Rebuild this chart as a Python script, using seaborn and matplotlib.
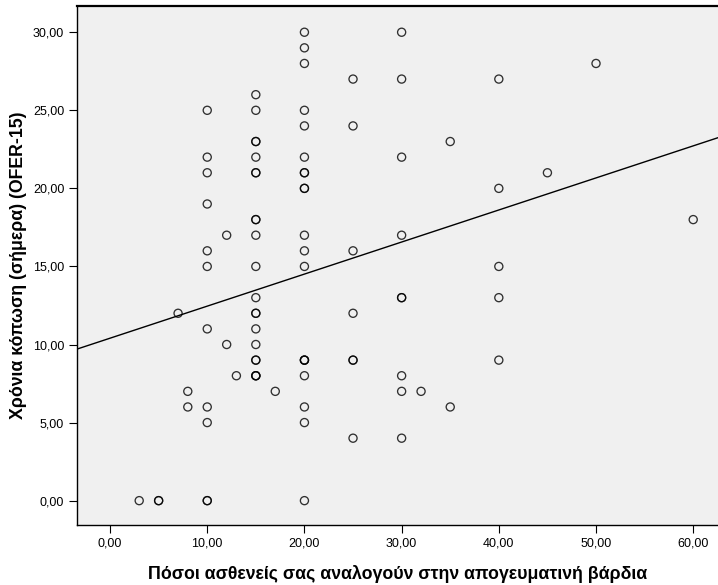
import matplotlib
matplotlib.use("Agg")
import matplotlib.pyplot as plt
import seaborn as sns
import pandas as pd
from matplotlib.ticker import FuncFormatter, MultipleLocator

# Data (duplicates drawn on top of each other)
patients = [3, 5, 5, 7, 8, 8,
            10, 10, 10, 10, 10, 10, 10, 10, 10, 10, 10,
            12, 12, 13,
            15, 15, 15, 15, 15, 15, 15, 15, 15, 15, 15, 15, 15, 15, 15, 15, 15, 15, 15, 15, 15,
            17,
            20, 20, 20, 20, 20, 20, 20, 20, 20, 20, 20, 20, 20, 20, 20, 20, 20, 20, 20, 20,
            25, 25, 25, 25, 25, 25, 25,
            30, 30, 30, 30, 30, 30, 30, 30, 30,
            32, 35, 35,
            40, 40, 40, 40, 40,
            45, 50, 60]
fatigue = [0, 0, 0, 12, 7, 6,
           25, 22, 21, 19, 16, 15, 11, 6, 5, 0, 0,
           17, 10, 8,
           26, 25, 23, 23, 22, 21, 21, 18, 18, 17, 15, 13, 12, 12, 11, 10, 9, 9, 8, 8, 8,
           7,
           30, 29, 28, 25, 24, 22, 21, 21, 20, 20, 17, 16, 15, 9, 9, 9, 8, 6, 5, 0,
           27, 24, 16, 12, 9, 9, 4,
           30, 27, 22, 17, 13, 13, 8, 7, 4,
           7, 23, 6,
           27, 20, 15, 13, 9,
           21, 28, 18]

x_label = "Πόσοι ασθενείς σας αναλογούν στην απογευματινή βάρδια"
y_label = "Χρόνια κόπωση (σήμερα) (OFER-15)"

df = pd.DataFrame({"x": patients, "y": fatigue})

sns.set_theme(style="white")
plt.rcParams["font.family"] = ["Liberation Sans", "DejaVu Sans"]

fig = plt.figure(figsize=(7.18, 5.85), dpi=100)
ax = fig.add_axes([76.7 / 718, 1 - 525 / 585, 1 - 76.7 / 718, (525 - 6) / 585])
ax.set_facecolor("#F0F0F0")

xlim = (-3.43, 62.55)
ylim = (-1.56, 31.68)
ax.set_xlim(*xlim)
ax.set_ylim(*ylim)

sns.regplot(data=df, x="x", y="y", ax=ax, ci=None, truncate=False,
            scatter_kws=dict(s=34, facecolors="none", edgecolors="black",
                             linewidths=0.95),
            line_kws=dict(color="black", linewidth=1.0))

ax.set_xlim(*xlim)
ax.set_ylim(*ylim)

fmt = FuncFormatter(lambda v, p: f"{v:.2f}".replace(".", ","))
ax.xaxis.set_major_locator(MultipleLocator(10))
ax.yaxis.set_major_locator(MultipleLocator(5))
ax.xaxis.set_major_formatter(fmt)
ax.yaxis.set_major_formatter(fmt)

ax.tick_params(axis="both", which="major", direction="out", length=6,
               width=0.8, color="black", labelsize=9, labelcolor="black",
               bottom=True, left=True, pad=3)

for side in ["left", "bottom"]:
    ax.spines[side].set_color("black")
    ax.spines[side].set_linewidth(1.0)
ax.spines["top"].set_color("black")
ax.spines["top"].set_linewidth(1.6)
ax.spines["right"].set_visible(False)

ax.set_xlabel(x_label, fontsize=12.8, fontweight="bold", labelpad=11, color="black")
ax.set_ylabel(y_label, fontsize=12.8, fontweight="bold", labelpad=4, color="black")

fig.savefig("out.png", dpi=100, facecolor="white")
